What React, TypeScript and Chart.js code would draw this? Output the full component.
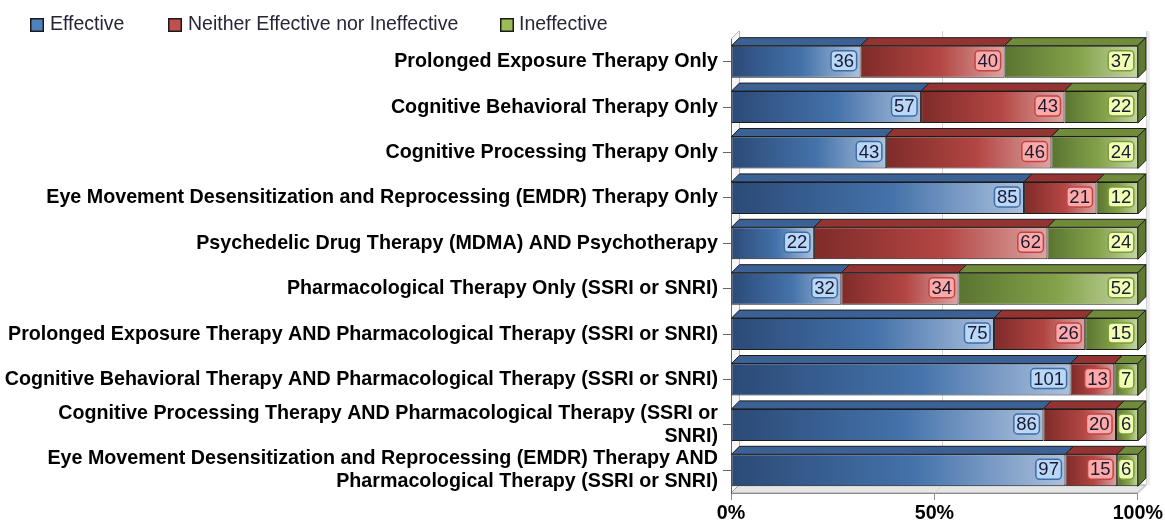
import React, { useEffect, useRef } from 'react';
import { Chart, registerables } from 'chart.js';

Chart.register(...registerables);

const categories: (string | string[])[] = [
  'Prolonged Exposure Therapy Only',
  'Cognitive Behavioral Therapy Only',
  'Cognitive Processing Therapy Only',
  'Eye Movement Desensitization and Reprocessing (EMDR) Therapy Only',
  'Psychedelic Drug Therapy (MDMA) AND Psychotherapy',
  'Pharmacological Therapy Only (SSRI or SNRI)',
  'Prolonged Exposure Therapy AND Pharmacological Therapy (SSRI or SNRI)',
  'Cognitive Behavioral Therapy AND Pharmacological Therapy (SSRI or SNRI)',
  ['Cognitive Processing Therapy AND Pharmacological Therapy (SSRI or', 'SNRI)'],
  ['Eye Movement Desensitization and Reprocessing (EMDR) Therapy AND', 'Pharmacological Therapy (SSRI or SNRI)'],
];

const effective = [36, 57, 43, 85, 22, 32, 75, 101, 86, 97];
const neither = [40, 43, 46, 21, 62, 34, 26, 13, 20, 15];
const ineffective = [37, 22, 24, 12, 24, 52, 15, 7, 6, 6];

const seriesNames = ['Effective', 'Neither Effective nor Ineffective', 'Ineffective'];
const xTickValues = [0, 50, 100];

const FONT = '"Liberation Sans", Arial, sans-serif';

const legendColors = ['#4F81BD', '#C0504D', '#9BBB59'];
const gradStops = [
  ['#2b4a77', '#4472aa', '#abc0dd'],
  ['#7e2b29', '#b34643', '#dca4a2'],
  ['#5a7430', '#84a24a', '#c4d6a2'],
];
const topColors = ['#3c6295', '#933432', '#708c3b'];
const sideColors = ['#2f5079', '#782a28', '#5f7832'];
const boxFill = ['#b9d8f8', '#ffaaa8', '#f0ffb2'];
const boxStroke = ['#3f6ca3', '#c04444', '#7e9c3c'];
const DEPTH = 8;

export default function App() {
  const ref = useRef<HTMLCanvasElement | null>(null);

  useEffect(() => {
    const canvas = ref.current;
    if (!canvas) return;
    const counts = [effective, neither, ineffective];
    const totals = effective.map((v, i) => v + neither[i] + ineffective[i]);
    const pct = counts.map((arr) => arr.map((v, i) => (v / totals[i]) * 100));

    const gradientFor = (d: number) => (ctx: any) => {
      const chart = ctx.chart;
      const xs = chart.scales && chart.scales.x;
      if (!xs || ctx.type !== 'data') return legendColors[d];
      const i = ctx.dataIndex;
      let start = 0;
      for (let k = 0; k < d; k++) start += pct[k][i];
      const end = start + pct[d][i];
      const x0 = xs.getPixelForValue(start);
      const x1 = xs.getPixelForValue(end);
      if (!isFinite(x0) || !isFinite(x1) || x1 - x0 < 0.5) return legendColors[d];
      const g = chart.ctx.createLinearGradient(x0, 0, x1, 0);
      g.addColorStop(0, gradStops[d][0]);
      g.addColorStop(0.55, gradStops[d][1]);
      g.addColorStop(1, gradStops[d][2]);
      return g;
    };

    const threeD = {
      id: 'threeD',
      beforeDraw(chart: any) {
        const c = chart.ctx;
        const { left: L, right: R, top: T, bottom: B } = chart.chartArea;
        const d = DEPTH;
        c.save();
        c.fillStyle = '#ececec';
        c.fillRect(R + d, T - d, 4, B - T);
        c.beginPath();
        c.moveTo(L, T); c.lineTo(L + d, T - d); c.lineTo(L + d, B - d); c.lineTo(L, B); c.closePath();
        c.fillStyle = '#f6f6f6';
        c.fill();
        c.strokeStyle = '#b8b8b8';
        c.lineWidth = 1;
        c.beginPath();
        c.moveTo(L + d + 0.5, T - d); c.lineTo(L + d + 0.5, B - d);
        c.moveTo(L, T); c.lineTo(L + d, T - d);
        c.stroke();
        c.beginPath();
        c.moveTo(L, B); c.lineTo(R, B); c.lineTo(R + d, B - d); c.lineTo(L + d, B - d); c.closePath();
        c.fillStyle = '#e6e6e6';
        c.fill();
        c.strokeStyle = '#a0a0a0';
        c.stroke();
        const xs = chart.scales.x;
        c.strokeStyle = '#d2d2d2';
        xTickValues.forEach((v) => {
          if (v === 0) return;
          const px = Math.round(xs.getPixelForValue(v)) + 0.5;
          c.beginPath();
          c.moveTo(px + d, T - d); c.lineTo(px + d, B - d);
          c.lineTo(px, B);
          c.stroke();
        });
        c.restore();
      },
      afterDatasetsDraw(chart: any) {
        const c = chart.ctx;
        const d = DEPTH;
        c.save();
        c.lineWidth = 1;
        c.strokeStyle = '#1c1c1c';
        const n = categories.length;
        for (let i = 0; i < n; i++) {
          for (let s = 0; s < 3; s++) {
            const el = chart.getDatasetMeta(s).data[i];
            const { x, base, y, height } = el.getProps(['x', 'base', 'y', 'height'], true);
            const top = y - height / 2;
            const bot = y + height / 2;
            c.beginPath();
            c.moveTo(base, top); c.lineTo(x, top); c.lineTo(x + d, top - d); c.lineTo(base + d, top - d); c.closePath();
            c.fillStyle = topColors[s];
            c.fill();
            c.stroke();
            if (s === 2) {
              c.beginPath();
              c.moveTo(x, top); c.lineTo(x + d, top - d); c.lineTo(x + d, bot - d); c.lineTo(x, bot); c.closePath();
              c.fillStyle = sideColors[s];
              c.fill();
              c.stroke();
            }
          }
        }
        c.font = `18.5px ${FONT}`;
        c.textAlign = 'center';
        c.textBaseline = 'middle';
        for (let s = 0; s < 3; s++) {
          const meta = chart.getDatasetMeta(s);
          meta.data.forEach((el: any, i: number) => {
            const { x, y } = el.getProps(['x', 'y'], true);
            const txt = String(counts[s][i]);
            const tw = c.measureText(txt).width;
            const w = tw + 5;
            const h = 20;
            const rx = x - 4 - w;
            const ry = y - 1 - h / 2;
            c.beginPath();
            (c as any).roundRect(rx, ry, w, h, 4);
            c.fillStyle = boxFill[s];
            c.fill();
            c.lineWidth = 1.5;
            c.strokeStyle = boxStroke[s];
            c.stroke();
            c.fillStyle = '#1a1a33';
            c.fillText(txt, rx + w / 2, y);
          });
        }
        c.restore();
      },
      afterDraw(chart: any) {
        const c = chart.ctx;
        const boxX = [30, 168, 500];
        const textX = [50, 188, 519];
        c.save();
        c.font = `19.5px ${FONT}`;
        c.textAlign = 'left';
        c.textBaseline = 'middle';
        seriesNames.forEach((name, k) => {
          c.fillStyle = legendColors[k];
          c.fillRect(boxX[k], 18, 14, 14);
          c.lineWidth = 1.5;
          c.strokeStyle = '#1a1a1a';
          c.strokeRect(boxX[k] + 0.75, 18.75, 12.5, 12.5);
          c.fillStyle = '#262636';
          c.fillText(name, textX[k], 25);
        });
        c.restore();
      },
    };

    const chart = new Chart(canvas, {
      type: 'bar',
      data: {
        labels: categories as any,
        datasets: seriesNames.map((name, s) => ({
          label: name,
          data: pct[s],
          backgroundColor: gradientFor(s),
          borderColor: '#1c1c1c',
          borderWidth: 1,
          borderSkipped: false,
          barPercentage: 0.85,
          categoryPercentage: 0.83,
        })),
      },
      options: {
        indexAxis: 'y',
        responsive: false,
        animation: false,
        devicePixelRatio: 1,
        layout: { padding: { left: 0, right: 26, top: 39, bottom: 0 } },
        plugins: {
          legend: { display: false },
          tooltip: { enabled: false },
          title: { display: false },
        },
        scales: {
          x: {
            type: 'linear',
            stacked: true,
            min: 0,
            max: 100,
            afterBuildTicks: (scale: any) => {
              scale.ticks = xTickValues.map((v) => ({ value: v }));
            },
            afterFit: (scale: any) => {
              scale.height = 27;
            },
            ticks: {
              callback: (v: any) => `${v}%`,
              font: { family: FONT, size: 19.7, weight: 'bold' },
              color: '#000',
              padding: 2,
              maxRotation: 0,
            },
            grid: { drawOnChartArea: false, drawTicks: true, tickLength: 7, color: '#8a8a8a' },
            border: { display: true, color: '#8a8a8a' },
          },
          y: {
            type: 'category',
            stacked: true,
            afterFit: (scale: any) => {
              scale.width = 731;
            },
            ticks: {
              font: { family: FONT, size: 19.7, weight: 'bold', lineHeight: 1.17 },
              color: '#000',
              padding: 5,
              autoSkip: false,
            },
            grid: { drawOnChartArea: false, drawTicks: true, tickLength: 8, color: '#666', offset: false },
            border: { display: true, color: '#666' },
          },
        },
      },
      plugins: [threeD],
    } as any);

    return () => chart.destroy();
  }, []);

  return (
    <div style={{ position: 'fixed', left: 0, top: 0, width: 1165, height: 520, background: '#fff' }}>
      <canvas ref={ref} width={1165} height={520} style={{ display: 'block' }} />
    </div>
  );
}
